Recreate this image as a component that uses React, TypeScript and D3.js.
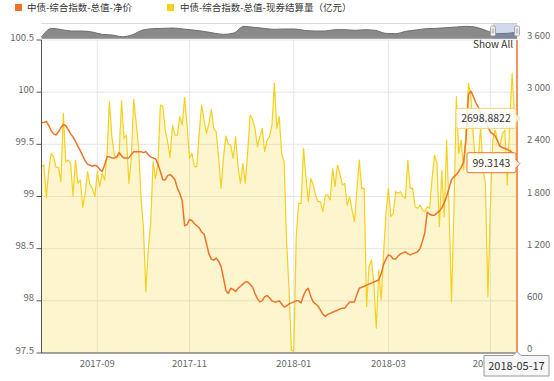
import React from 'react';
import * as d3 from 'd3';

// ---------- categories (trading days) ----------
const holidays = ['2017-10-02','2017-10-03','2017-10-04','2017-10-05','2017-10-06','2018-01-01','2018-02-15','2018-02-16','2018-02-19','2018-02-20','2018-02-21','2018-04-05','2018-04-06','2018-04-30','2018-05-01'];
const makeupDays = ['2018-02-11','2018-02-24','2018-04-08','2018-04-28'];
const startDate = '2017-08-01';
const endDate = '2018-05-17';

function fmt(d: Date) {
  return d.toISOString().slice(0, 10);
}
function tradingDays(s: string, e: string): string[] {
  const out: string[] = [];
  const end = new Date(e + 'T00:00:00Z').getTime();
  for (let t = new Date(s + 'T00:00:00Z').getTime(); t <= end; t += 86400000) {
    const d = new Date(t);
    const k = fmt(d);
    const wd = d.getUTCDay();
    const isWork = (wd !== 0 && wd !== 6 && !holidays.includes(k)) || makeupDays.includes(k);
    if (isWork) out.push(k);
  }
  return out;
}
const dates = tradingDays(startDate, endDate);

// ---------- series ----------
const seriesNames = ['中债-综合指数-总值-净价', '中债-综合指数-总值-现券结算量（亿元）'];

const netPrice = [
  99.71,99.71,99.72,99.68,99.63,99.60,99.59,99.62,99.66,99.69,
  99.68,99.64,99.60,99.57,99.53,99.48,99.44,99.39,99.34,99.31,
  99.30,99.29,99.30,99.29,99.26,99.24,99.30,99.38,99.38,99.37,
  99.37,99.38,99.42,99.39,99.37,99.37,99.37,99.40,99.43,99.43,
  99.43,99.43,99.42,99.43,99.40,99.38,99.37,99.36,99.31,99.24,
  99.16,99.16,99.20,99.21,99.19,99.16,99.08,99.03,98.96,98.72,
  98.73,98.78,98.77,98.74,98.72,98.70,98.66,98.64,98.55,98.45,
  98.40,98.39,98.41,98.38,98.33,98.22,98.10,98.07,98.12,98.11,
  98.09,98.12,98.14,98.16,98.18,98.18,98.16,98.13,98.07,98.02,
  97.99,98.00,98.04,98.05,98.03,98.00,97.99,97.99,98.00,97.97,
  97.94,97.95,97.97,97.98,97.99,98.00,98.00,97.98,98.05,98.10,
  98.12,98.04,97.99,97.97,97.95,97.91,97.87,97.85,97.87,97.88,
  97.89,97.90,97.91,97.92,97.93,97.93,97.96,97.99,97.99,97.99,
  98.06,98.12,98.13,98.14,98.15,98.16,98.17,98.18,98.19,98.20,
  98.26,98.35,98.40,98.44,98.43,98.40,98.40,98.43,98.45,98.46,
  98.47,98.45,98.44,98.45,98.46,98.47,98.50,98.57,98.65,98.85,
  98.83,98.82,98.82,98.84,98.86,98.89,98.94,99.00,99.08,99.16,
  99.19,99.21,99.24,99.28,99.33,99.55,99.98,100.01,99.96,99.90,
  99.86,99.80,99.76,99.72,99.67,99.62,99.60,99.58,99.53,99.48,
  99.47,99.46,99.45,99.44,99.42,99.39,99.3143
];

const volume = [
  2143,2162,1786,2105,2296,2258,2135,2135,1970,2756,
  2200,2220,2181,1806,2220,1951,1990,1675,1836,2085,
  1932,1894,1798,2085,1913,2066,1990,2266,2890,2488,
  2277,2239,2277,2902,2469,2507,1951,2239,2917,2660,
  2373,1798,1453,705,1185,1491,2200,2009,2181,2852,
  2841,2565,2430,2250,2622,2507,2507,2718,2622,2940,
  2622,2239,2296,2143,2143,2526,2852,2680,2526,2641,
  2802,2584,2545,2250,1894,2239,2496,2404,2392,2239,
  2488,2143,1951,2181,1951,2315,2737,2688,2584,2373,
  2488,2584,2315,2450,2488,2622,3101,2584,2718,2296,
  2200,1300,760,30,20,1338,1721,1721,2354,2028,
  1740,2009,1932,1817,1740,1740,1625,1817,1817,1760,
  2124,1913,2162,2066,1932,1951,1702,1798,1645,1510,
  1875,2220,1894,1894,533,993,1070,801,284,955,
  610,1146,1606,1894,1568,1606,1855,1836,1855,1798,
  1779,2220,1894,1894,1683,1664,1702,1645,1625,1683,
  1664,2009,2277,2181,1453,2105,1568,2450,1645,590,
  1645,2948,2296,2450,2105,2565,3101,2948,2488,2181,
  2220,2603,2105,1951,648,1645,2450,2565,2450,2373,
  2526,2565,1932,2680,3216,2718,2698.8822
];

const navValues = [5,31,27,23,23,20,13,11,6,12,26,30,31,32,29,26,22,17,13,17,37,34,31,28,29,29,25,23,23,27,27,25,27,25,16,15,22,26,30,31,33,35,37,34,24,15,16,19];

const leftTicks = [97.5, 98, 98.5, 99, 99.5, 100, 100.5];
const rightTicks = [0, 600, 1200, 1800, 2400, 3000, 3600];
const monthTicks = ['2017-09', '2017-11', '2018-01', '2018-03', '2018-05'];

// ---------- style ----------
const ORANGE = '#EC7428';
const YELLOW = '#F6D01E';
const FONT = '"Noto Sans CJK SC", "Noto Sans", sans-serif';

export default function App() {
  const W = 554, H = 381;
  const left = 41.5, right = 517, top = 40, bottom = 353;

  const x = d3.scalePoint<string>().domain(dates).range([left, right]).padding(0);
  const yL = d3.scaleLinear().domain([97.5, 100.5]).range([bottom, top]);
  const yR = d3.scaleLinear().domain([0, 3600]).range([bottom, top]).clamp(true);

  const area = d3.area<number>()
    .x((_, i) => x(dates[i]) as number)
    .y0(bottom)
    .y1(d => yR(d));
  const volLine = d3.line<number>()
    .x((_, i) => x(dates[i]) as number)
    .y(d => yR(d));
  const priceLine = d3.line<number>()
    .x((_, i) => x(dates[i]) as number)
    .y(d => yL(d));

  // navigator
  const nx = d3.scaleLinear().domain([0, navValues.length - 1]).range([left, right]);
  const ny = d3.scaleLinear().domain([0, 50]).range([38.7, 22]);
  const navArea = d3.area<number>().x((_, i) => nx(i)).y0(38.7).y1(d => ny(d)).curve(d3.curveMonotoneX);
  const navLine = d3.line<number>().x((_, i) => nx(i)).y(d => ny(d)).curve(d3.curveMonotoneX);

  const tickDates = monthTicks.map(m => dates.find(d => d.startsWith(m)) as string);

  const last = dates.length - 1;
  const px = x(dates[last]) as number;
  const pyV = yR(volume[last]);
  const pyP = yL(netPrice[last]);

  const navSelStart = 493;

  const tipPath = (x0: number, x1: number, y0: number, y1: number, ay: number, tip: number) =>
    `M${x0 + 2},${y0} L${x1 - 2},${y0} Q${x1},${y0} ${x1},${y0 + 2} L${x1},${ay - 4} L${tip},${ay} L${x1},${ay + 4} L${x1},${y1 - 2} Q${x1},${y1} ${x1 - 2},${y1} L${x0 + 2},${y1} Q${x0},${y1} ${x0},${y1 - 2} L${x0},${y0 + 2} Q${x0},${y0} ${x0 + 2},${y0} Z`;

  return (
    <svg width={W} height={H} style={{ position: 'absolute', left: 0, top: 0, background: '#fff' }} fontFamily={FONT}>
      {/* legend */}
      <rect x={15} y={4} width={7} height={7} fill={ORANGE} />
      <text x={27} y={11} fontSize={9.5} fill="#333">{seriesNames[0]}</text>
      <rect x={167} y={4} width={7} height={7} fill={YELLOW} />
      <text x={180} y={11} fontSize={9.5} fill="#333">{seriesNames[1]}</text>

      {/* navigator */}
      <line x1={left} x2={right} y1={23.5} y2={23.5} stroke="#d8d8d8" />
      <path d={navArea(navValues) as string} fill="#8a8a8a" />
      <path d={navLine(navValues) as string} fill="none" stroke="#6f6f6f" strokeWidth={1} />
      <rect x={navSelStart} y={23.5} width={right - navSelStart} height={15.5} fill="rgba(102,133,194,0.3)" />
      {[navSelStart, right].map((hx, i) => (
        <g key={i}>
          <rect x={hx - 2.5} y={26} width={5} height={10} rx={1.5} fill="#f2f2f2" stroke="#999" strokeWidth={0.8} />
          <line x1={hx - 0.7} x2={hx - 0.7} y1={28.5} y2={33.5} stroke="#999" strokeWidth={0.6} />
          <line x1={hx + 0.7} x2={hx + 0.7} y1={28.5} y2={33.5} stroke="#999" strokeWidth={0.6} />
        </g>
      ))}

      {/* grid */}
      {leftTicks.map(t => (
        <line key={'h' + t} x1={left} x2={right} y1={yL(t)} y2={yL(t)} stroke="#e6e6e6" />
      ))}
      {tickDates.map(d => (
        <line key={'v' + d} x1={x(d)} x2={x(d)} y1={top} y2={bottom} stroke="#e6e6e6" />
      ))}

      {/* volume area */}
      <path d={area(volume) as string} fill={YELLOW} fillOpacity={0.22} />
      <path d={volLine(volume) as string} fill="none" stroke={YELLOW} strokeWidth={1.2} strokeLinejoin="round" />

      {/* net price */}
      <path d={priceLine(netPrice) as string} fill="none" stroke={ORANGE} strokeWidth={1.5} strokeLinejoin="round" />

      {/* axes */}
      <line x1={left} x2={left} y1={top} y2={bottom} stroke="#555" strokeWidth={1} />
      <line x1={left} x2={right} y1={bottom} y2={bottom} stroke="#555" strokeWidth={1} />
      {leftTicks.map(t => (
        <g key={'lt' + t}>
          <line x1={left - 5} x2={left} y1={yL(t)} y2={yL(t)} stroke="#555" />
          <text x={34} y={yL(t) + 0.5} fontSize={9.5} fill="#666" textAnchor="end">{t}</text>
        </g>
      ))}
      {rightTicks.map(t => (
        <text key={'rt' + t} x={527} y={yR(t) - 1} fontSize={9.5} fill="#666">
          {d3.format(',')(t).replace(',', ' ')}
        </text>
      ))}
      {monthTicks.map((m, i) => (
        <text key={'mt' + m} x={x(tickDates[i])} y={367} fontSize={9.5} fill="#666" textAnchor="middle">{m}</text>
      ))}

      {/* Show All */}
      <text x={473} y={48} fontSize={10} fill="#333">Show All</text>

      {/* crosshair */}
      <line x1={px} x2={px} y1={top} y2={bottom} stroke={ORANGE} strokeWidth={1.5} />

      {/* tooltips */}
      <path d={tipPath(px - 61, px - 1, pyV - 10, pyV + 10, pyV, px + 3)} fill="rgba(255,255,255,0.85)" stroke="#F3D46A" strokeWidth={1} />
      <text x={px - 31} y={pyV + 4} fontSize={10.5} fill="#333" textAnchor="middle">{d3.format('.4f')(volume[last])}</text>
      <path d={tipPath(px - 50, px - 1, pyP - 11, pyP + 9, pyP, px + 3)} fill="rgba(255,255,255,0.85)" stroke={ORANGE} strokeWidth={1} />
      <text x={px - 25.5} y={pyP + 3} fontSize={10.5} fill="#333" textAnchor="middle">{d3.format('.4f')(netPrice[last])}</text>

      <path
        d={`M${px - 33},${bottom + 2.5} L${px - 4},${bottom + 2.5} L${px},${bottom - 1.5} L${px + 4},${bottom + 2.5} L${px + 32},${bottom + 2.5} L${px + 32},${bottom + 23} L${px - 33},${bottom + 23} Z`}
        fill="#f7f7f7" stroke="#999" strokeWidth={1}
      />
      <text x={px - 0.5} y={bottom + 17} fontSize={11} fill="#333" textAnchor="middle">{dates[last]}</text>
    </svg>
  );
}
